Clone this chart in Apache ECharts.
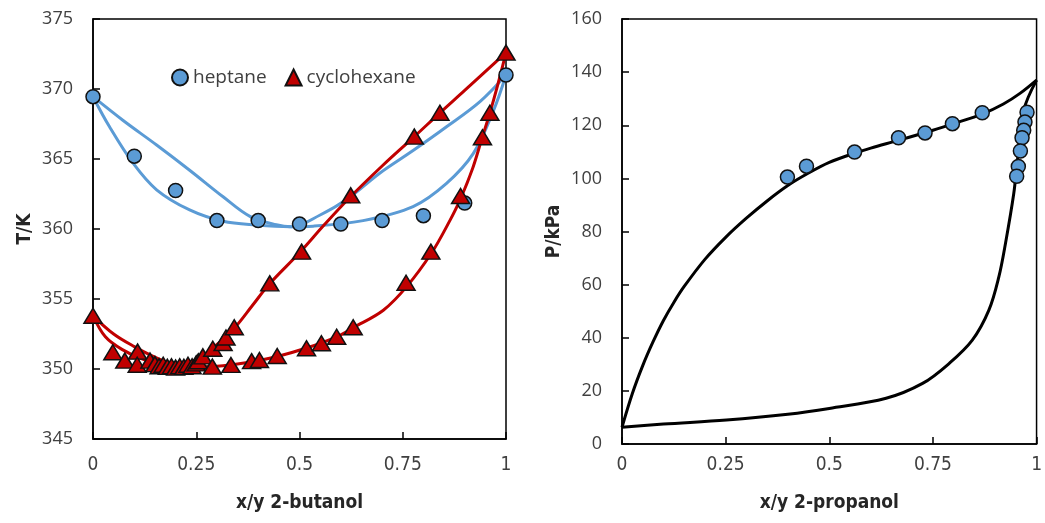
<!DOCTYPE html>
<html>
<head>
<meta charset="utf-8">
<script src="https://cdn.jsdelivr.net/npm/echarts@6/dist/echarts.min.js"></script>
<style>html,body{margin:0;padding:0;background:#fff}#c{width:1045px;height:523px}</style>
</head>
<body>
<div id="c"></div>
<script>
// ---- Left panel: T vs x/y 2-butanol ----
const xTicksLeft = [0, 0.25, 0.5, 0.75, 1];
const heptanePts = [[0,369.45],[0.1,365.2],[0.2,362.75],[0.3,360.6],[0.4,360.6],[0.5,360.35],[0.6,360.35],[0.7,360.6],[0.8,360.95],[0.9,361.85],[1,371.0]];
const heptaneLiquid = [[0,369.45],[0.04,367.3],[0.097,364.7],[0.154,362.8],[0.234,361.36],[0.315,360.55],[0.396,360.28],[0.477,360.16],[0.533,360.2],[0.654,360.6],[0.775,361.6],[0.856,363.26],[0.921,365.4],[0.969,368.4],[1,371.0]];
const heptaneVapor = [[0,369.45],[0.073,367.75],[0.154,366.0],[0.234,364.2],[0.315,362.3],[0.38,360.9],[0.444,360.3],[0.48,360.16],[0.55,361.0],[0.614,362.1],[0.695,364.0],[0.775,365.6],[0.856,367.3],[0.937,369.1],[1,371.0]];
const cyclohexanePts = [[0,353.8],[0.048,351.2],[0.077,350.6],[0.108,351.24],[0.107,350.3],[0.138,350.6],[0.15,350.35],[0.16,350.2],[0.17,350.3],[0.18,350.15],[0.19,350.2],[0.2,350.1],[0.21,350.2],[0.22,350.15],[0.23,350.3],[0.24,350.2],[0.25,350.4],[0.255,350.55],[0.266,350.9],[0.29,351.45],[0.289,350.17],[0.315,351.86],[0.322,352.25],[0.342,352.98],[0.334,350.29],[0.384,350.56],[0.403,350.64],[0.446,350.93],[0.428,356.12],[0.505,358.38],[0.517,351.48],[0.553,351.84],[0.59,352.3],[0.63,352.98],[0.624,362.4],[0.758,356.16],[0.818,358.38],[0.778,366.6],[0.84,368.3],[0.89,362.36],[0.943,366.55],[0.961,368.3],[1,372.6]];
const cyclohexaneLiquid = [[0,353.8],[0.03,352.3],[0.07,351.4],[0.12,350.7],[0.17,350.3],[0.22,350.15],[0.3,350.2],[0.37,350.45],[0.444,350.88],[0.517,351.5],[0.59,352.3],[0.63,352.95],[0.703,354.2],[0.76,355.9],[0.82,358.3],[0.864,360.6],[0.889,362.1],[0.92,364.4],[0.943,366.6],[0.961,368.3],[0.98,370.3],[1,372.6]];
const cyclohexaneVapor = [[0,353.8],[0.05,352.5],[0.1,351.6],[0.15,350.85],[0.2,350.35],[0.25,350.65],[0.294,351.6],[0.343,352.95],[0.385,354.5],[0.428,356.1],[0.5,358.3],[0.56,360.3],[0.62,362.2],[0.7,364.5],[0.778,366.6],[0.84,368.3],[0.9,369.9],[1,372.6]];

// ---- Right panel: P vs x/y 2-propanol ----
const xTicksRight = [0, 0.25, 0.5, 0.75, 1];
const propanolPts = [[0.399,100.5],[0.445,104.6],[0.561,109.9],[0.667,115.3],[0.731,117.1],[0.797,120.6],[0.869,124.7],[0.977,124.9],[0.972,121.2],[0.969,118.1],[0.965,115.3],[0.961,110.3],[0.956,104.5],[0.952,100.8]];
const bubbleCurve = [[0,6.3],[0.025,19],[0.05,29.5],[0.075,38.5],[0.1,46.5],[0.125,53.3],[0.15,59.3],[0.2,69.5],[0.25,77.8],[0.3,85],[0.35,91.5],[0.4,97.3],[0.45,102],[0.5,106],[0.561,109.5],[0.6,111.4],[0.669,114.4],[0.75,118.1],[0.8,120.6],[0.87,124.3],[0.92,128],[0.96,132],[1,137.0]];
const dewCurve = [[0,6.3],[0.1,7.5],[0.252,9.0],[0.4,11.2],[0.5,13.4],[0.637,17.2],[0.725,22.8],[0.789,30.3],[0.845,39.1],[0.885,50.4],[0.909,62.9],[0.925,75.5],[0.945,94.3],[0.953,105.5],[0.969,125.6],[1,137.0]];

const tickFont = "'Open Sans', sans-serif";
const narrow = "'Liberation Sans Narrow', 'DejaVu Sans Condensed', sans-serif";
const BLUE = '#5B9BD5', RED = '#C00000';

function xAx(idx, name, gap, lblMargin) {
  return {
    gridIndex: idx, type: 'value', min: 0, max: 1, interval: 0.25,
    name: name, nameLocation: 'middle', nameGap: gap,
    nameTextStyle: {fontFamily: narrow, fontWeight: 'bold', fontSize: 19, color: '#262626'},
    axisLine: {show: true, onZero: false, lineStyle: {color: '#000', width: 1.5}},
    axisTick: {show: true, inside: true, length: 7, lineStyle: {color: '#000', width: 1.5}},
    axisLabel: {fontFamily: narrow, fontSize: 19, color: '#404040', margin: lblMargin},
    splitLine: {show: false}
  };
}
function yAx(idx, name, min, max, interval, gap) {
  return {
    gridIndex: idx, type: 'value', min: min, max: max, interval: interval,
    name: name, nameLocation: 'middle', nameGap: gap, nameRotate: 90,
    nameTextStyle: {fontFamily: narrow, fontWeight: 'bold', fontSize: 19, color: '#262626'},
    axisLine: {show: true, onZero: false, lineStyle: {color: '#000', width: 1.5}},
    axisTick: {show: true, inside: true, length: 7, lineStyle: {color: '#000', width: 1.5}},
    axisLabel: {fontFamily: tickFont, fontSize: 18, color: '#404040', margin: 20},
    splitLine: {show: false}
  };
}
function curve(name, data, color, xi, yi) {
  return {name: name, type: 'line', data: data, xAxisIndex: xi, yAxisIndex: yi,
    smooth: 0.35, showSymbol: false, symbol: 'none', z: 2,
    lineStyle: {color: color, width: 3}, itemStyle: {color: color}, silent: true};
}

const chart = echarts.init(document.getElementById('c'), null, {renderer: 'canvas'});
chart.setOption({
  animation: false,
  backgroundColor: '#fff',
  grid: [
    {left: 93, right: 539, top: 19, bottom: 84, show: true, borderColor: '#000', borderWidth: 1.5},
    {left: 622, right: 7, top: 19, bottom: 79, show: true, borderColor: '#000', borderWidth: 1.5}
  ],
  legend: {
    data: ['heptane', 'cyclohexane'], left: 166, top: 63, itemGap: 18,
    itemWidth: 16, itemHeight: 16,
    textStyle: {fontFamily: tickFont, fontSize: 19, color: '#404040'}
  },
  xAxis: [xAx(0, 'x/y 2-butanol', 55, 17), xAx(1, 'x/y 2-propanol', 50, 12)],
  yAxis: [yAx(0, 'T/K', 345, 375, 5, 58), yAx(1, 'P/kPa', 0, 160, 20, 58)],
  series: [
    curve('hepL', heptaneLiquid, BLUE, 0, 0),
    curve('hepV', heptaneVapor, BLUE, 0, 0),
    curve('cycL', cyclohexaneLiquid, RED, 0, 0),
    curve('cycV', cyclohexaneVapor, RED, 0, 0),
    {name: 'heptane', type: 'scatter', data: heptanePts, xAxisIndex: 0, yAxisIndex: 0,
      symbol: 'circle', symbolSize: 14, z: 4,
      itemStyle: {color: BLUE, borderColor: '#111', borderWidth: 1.5, opacity: 1}},
    {name: 'cyclohexane', type: 'scatter', data: cyclohexanePts, xAxisIndex: 0, yAxisIndex: 0,
      symbol: 'triangle', symbolSize: [18, 15], z: 5,
      itemStyle: {color: RED, borderColor: '#111', borderWidth: 1.5, opacity: 1}},
    curve('bubble', bubbleCurve, '#000', 1, 1),
    curve('dew', dewCurve, '#000', 1, 1),
    {name: '2-propanol', type: 'scatter', data: propanolPts, xAxisIndex: 1, yAxisIndex: 1,
      symbol: 'circle', symbolSize: 14, z: 4,
      itemStyle: {color: BLUE, borderColor: '#111', borderWidth: 1.5, opacity: 1}}
  ]
});
</script>
</body>
</html>
